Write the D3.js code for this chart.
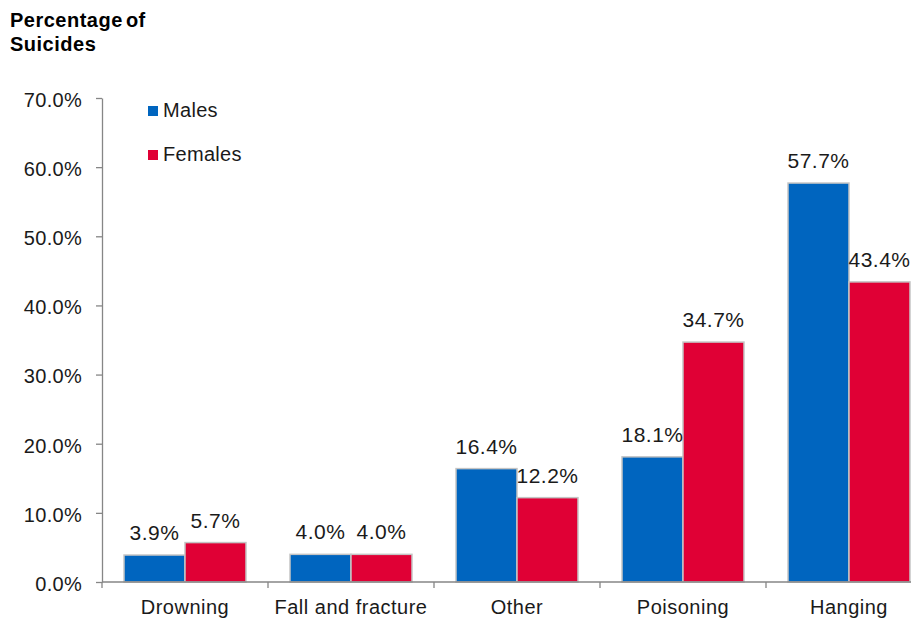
<!DOCTYPE html>
<html>
<head>
<meta charset="utf-8">
<script src="https://cdn.jsdelivr.net/npm/d3@7"></script>
<style>
  html, body { margin: 0; padding: 0; background: #fff; }
  svg { display: block; font-family: "Liberation Sans", Arial, sans-serif; }
</style>
</head>
<body>
<svg id="chart" width="921" height="619"></svg>
<script>
// Suicide methods by sex, share of all suicides (%)
const categories = ["Drowning", "Fall and fracture", "Other", "Poisoning", "Hanging"];
const series = ["Males", "Females"];
const males = [3.9, 4.0, 16.4, 18.1, 57.7];
const females = [5.7, 4.0, 12.2, 34.7, 43.4];
const yTicks = [0, 10, 20, 30, 40, 50, 60, 70];
const colors = { Males: "#0065bf", Females: "#e00035" };

const svg = d3.select("#chart");
const plotLeft = 102, plotTop = 98, plotBottom = 582, plotRight = 911;

const y = d3.scaleLinear().domain([0, 70]).range([plotBottom, plotTop]);
const x = d3.scaleBand().domain(categories).range([plotLeft, 932]).padding(0);
const xs = d3.scaleBand().domain(series).range([0, x.bandwidth()]).paddingInner(0).paddingOuter(0.361);

const rows = categories.map((c, i) => ({ cat: c, Males: males[i], Females: females[i] }));
const fmt = v => d3.format(".1f")(v) + "%";

// Title
const title = svg.append("text").attr("font-weight", "bold")
  .attr("font-size", 20).attr("fill", "#000").style("letter-spacing", "0.5px")
  .style("word-spacing", "-3px");
title.append("tspan").attr("x", 10).attr("y", 27).text("Percentage of");
title.append("tspan").attr("x", 10).attr("y", 51).text("Suicides");

// Y axis
const yAxis = svg.append("g").attr("transform", `translate(${plotLeft},0)`)
  .call(d3.axisLeft(y).tickValues(yTicks).tickFormat(fmt).tickSize(6).tickSizeOuter(0));
yAxis.select(".domain").attr("stroke", "#868686").attr("stroke-width", 1.3);
yAxis.selectAll(".tick line").attr("stroke", "#868686").attr("stroke-width", 1.3);
yAxis.selectAll(".tick text").attr("x", -20).attr("dy", "0.42em")
  .attr("font-size", 20).attr("fill", "#1a1a1a").style("letter-spacing", "0.3px")
  .attr("font-family", "'Liberation Sans', Arial, sans-serif");

// Bars
const groups = svg.append("g").selectAll("g").data(rows).join("g")
  .attr("transform", d => `translate(${x(d.cat)},0)`);

groups.selectAll("rect").data(d => series.map(s => ({ s, v: d[s] }))).join("rect")
  .attr("x", d => xs(d.s))
  .attr("width", xs.bandwidth())
  .attr("y", d => y(d.v))
  .attr("height", d => y(0) - y(d.v))
  .attr("fill", d => colors[d.s])
  .attr("stroke", "#c4c4c4")
  .attr("stroke-width", 1.5);

groups.selectAll("text.val").data(d => series.map(s => ({ s, v: d[s] }))).join("text")
  .attr("class", "val")
  .attr("x", d => xs(d.s) + xs.bandwidth() / 2)
  .attr("y", d => y(d.v) - 15)
  .attr("text-anchor", "middle")
  .attr("font-size", 21)
  .attr("fill", "#1a1a1a")
  .style("letter-spacing", "0.5px")
  .text(d => fmt(d.v));

// X axis
const xAxis = svg.append("g").attr("transform", `translate(0,${plotBottom})`);
xAxis.append("line").attr("x1", plotLeft).attr("x2", plotRight).attr("y1", 0).attr("y2", 0)
  .attr("stroke", "#868686").attr("stroke-width", 1.3);
const bounds = categories.map(c => x(c));
xAxis.selectAll("line.tick").data(bounds).join("line").attr("class", "tick")
  .attr("x1", d => d).attr("x2", d => d).attr("y1", 0).attr("y2", 6)
  .attr("stroke", "#868686").attr("stroke-width", 1.3);
xAxis.selectAll("text").data(categories).join("text")
  .attr("x", d => x(d) + x.bandwidth() / 2)
  .attr("y", 32)
  .attr("text-anchor", "middle")
  .attr("font-size", 20)
  .attr("fill", "#1a1a1a")
  .style("letter-spacing", "0.5px")
  .text(d => d);

// Legend
const legend = svg.append("g").selectAll("g").data(series).join("g")
  .attr("transform", (d, i) => `translate(148,${106 + i * 44})`);
legend.append("rect").attr("width", 10).attr("height", 10).attr("fill", d => colors[d]);
legend.append("text").attr("x", 15).attr("y", 11).attr("font-size", 20)
  .attr("fill", "#1a1a1a").style("letter-spacing", "0.3px").text(d => d);
</script>
</body>
</html>
